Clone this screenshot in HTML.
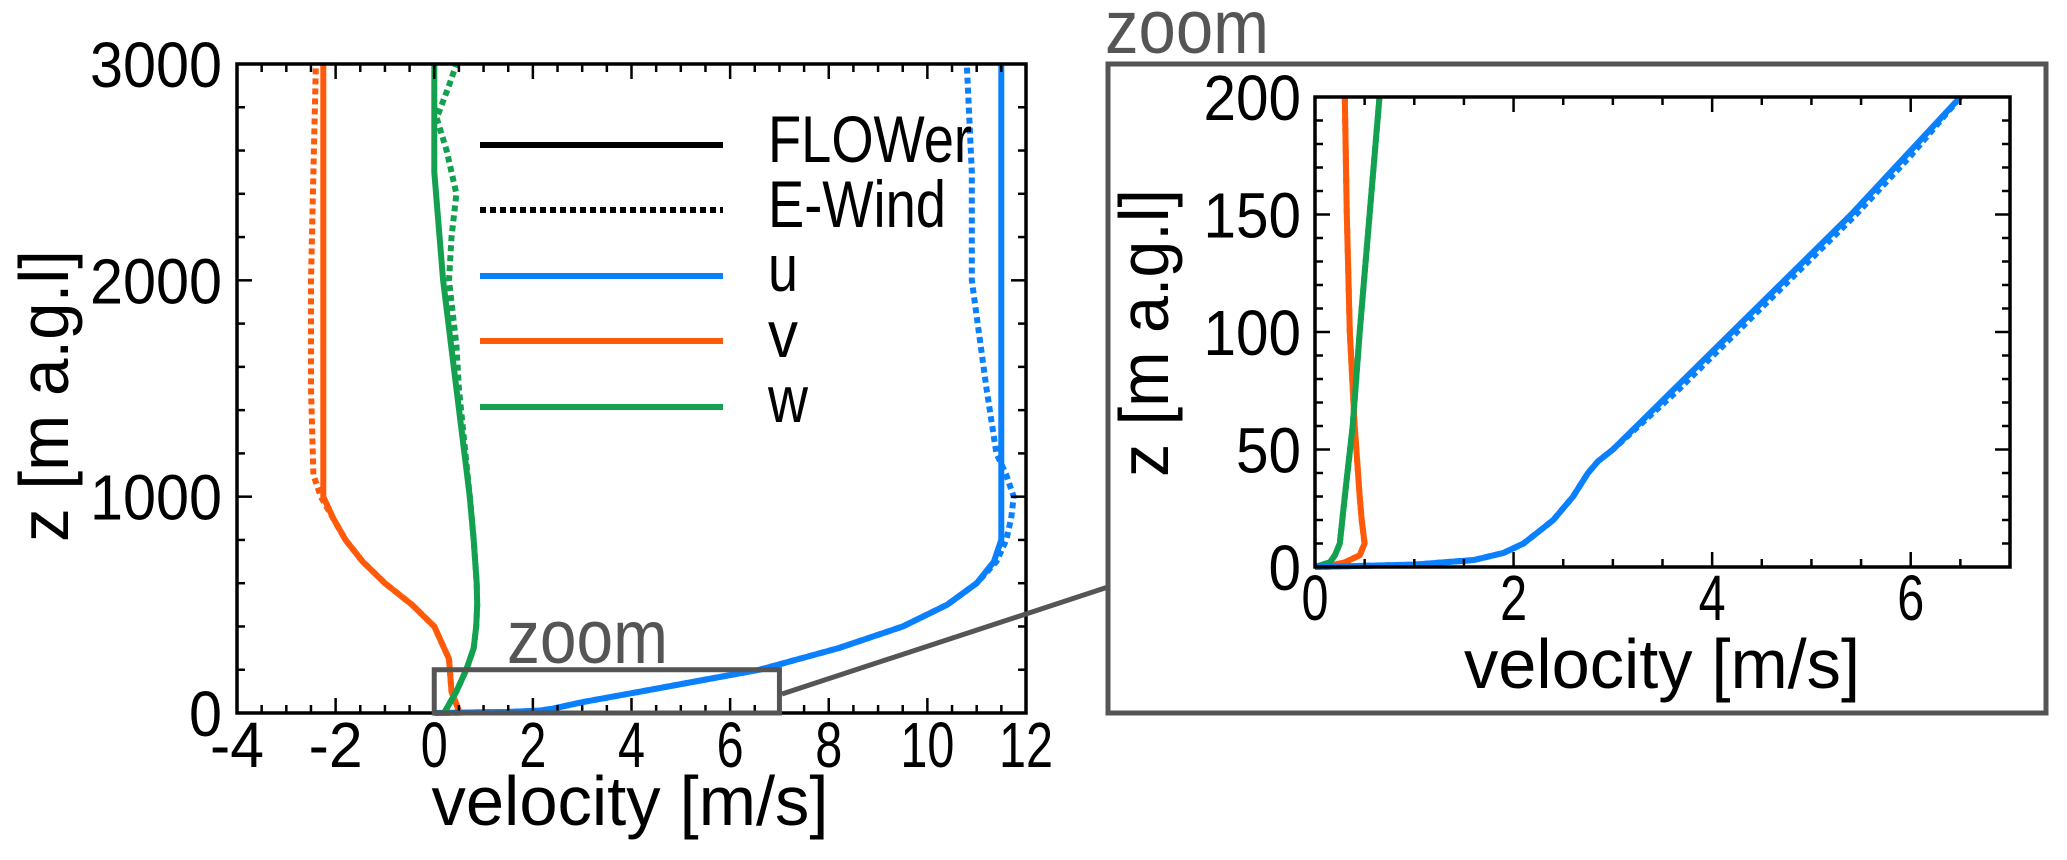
<!DOCTYPE html>
<html><head><meta charset="utf-8"><style>
html,body{margin:0;padding:0;background:#fff;}
svg{display:block;font-family:"Liberation Sans",sans-serif;}
</style></head><body>
<svg id="c" width="2067" height="860" viewBox="0 0 2067 860" xmlns="http://www.w3.org/2000/svg"></svg>
<script>
// ---- main plot data (z in m, velocity in m/s) ----
const uSolidZ = [0,5,10,20,50,100,150,200,300,400,500,600,700,800,900,1000,1500,2000,2500,3000];
const uSolidV = [0,1.5,2.1,2.4,3.0,4.2,5.4,6.6,8.2,9.5,10.4,11.0,11.35,11.5,11.5,11.5,11.5,11.5,11.5,11.5];
const uDashZ  = [0,5,10,20,50,100,150,200,300,400,500,600,700,800,900,1000,1100,1200,1500,2000,2500,3000];
const uDashV  = [0,1.5,2.1,2.4,3.0,4.2,5.4,6.6,8.2,9.5,10.4,11.0,11.4,11.6,11.7,11.75,11.6,11.4,11.2,10.9,10.9,10.8];
const vSolidZ = [0,10,100,250,300,400,500,600,700,800,900,1000,2000,3000];
const vSolidV = [0.45,0.5,0.35,0.3,0.2,0.0,-0.45,-1.0,-1.45,-1.8,-2.05,-2.25,-2.25,-2.25];
const vDashZ  = [0,10,100,250,300,400,500,600,700,800,900,1000,1100,1500,2000,2500,3000];
const vDashV  = [0.45,0.5,0.35,0.3,0.2,0.0,-0.45,-1.0,-1.45,-1.8,-2.05,-2.3,-2.45,-2.5,-2.5,-2.45,-2.4];
const wSolidZ = [0,100,200,300,400,500,600,800,1000,1500,2000,2500,3000];
const wSolidV = [0.2,0.45,0.65,0.8,0.85,0.87,0.86,0.8,0.72,0.45,0.18,0.0,0.0];
const wDashZ  = [0,100,200,300,400,500,600,800,1000,1500,1700,2000,2200,2400,2600,2750,2900,3000];
const wDashV  = [0.2,0.45,0.65,0.8,0.85,0.87,0.86,0.8,0.72,0.5,0.45,0.3,0.35,0.45,0.25,0.05,0.3,0.45];
const mainXTicks = [-4,-2,0,2,4,6,8,10,12];
const mainYTicks = [0,1000,2000,3000];
// ---- zoom inset data ----
const iuZ = [0,1,3,6,10,15,20,30,40,45,50,75,100,125,150,175,200];
const iuV = [0,1.0,1.6,1.9,2.1,2.25,2.4,2.6,2.75,2.85,3.0,3.6,4.2,4.8,5.4,5.95,6.5];
const iuDV= [0,1.0,1.6,1.9,2.1,2.25,2.4,2.6,2.75,2.85,3.0,3.65,4.25,4.85,5.45,6.0,6.5];
const ivZ = [0,2,5,10,20,30,60,100,150,200];
const ivV = [0.1,0.3,0.45,0.5,0.47,0.45,0.4,0.35,0.32,0.3];
const iwZ = [0,2,5,10,30,60,100,150,200];
const iwV = [0,0.15,0.2,0.25,0.3,0.38,0.45,0.55,0.65];
const insetXTicks = [0,2,4,6];
const insetYTicks = [0,50,100,150,200];

const svg = document.getElementById('c');
const NS = 'http://www.w3.org/2000/svg';
function mk(tag, attrs, parent){const e=document.createElementNS(NS,tag);for(const k in attrs)e.setAttribute(k,attrs[k]);(parent||svg).appendChild(e);return e;}
const BLUE='#0a80ff', ORANGE='#ff5a0a', GREEN='#13a150', GRAY='#555';

function axis(ax){
  ax.sx = v => ax.L + (v-ax.x0)/(ax.x1-ax.x0)*(ax.R-ax.L);
  ax.sy = v => ax.B - (v-ax.y0)/(ax.y1-ax.y0)*(ax.B-ax.T);
  return ax;
}
function drawLine(ax, zs, vs, color, dashed, name){
  let d='';
  for(let i=0;i<zs.length;i++){d+=(i?'L':'M')+ax.sx(vs[i]).toFixed(1)+','+ax.sy(zs[i]).toFixed(1);}
  const p=mk('path',{d:d,fill:'none',stroke:color,'stroke-width':6,'stroke-linejoin':'round'});
  if(dashed)p.setAttribute('stroke-dasharray','6,4');
  
  
}
function frame(ax, xt, xminor, yt, yminor, name){
  const g=mk('g',{});
  
  
  for(let v=ax.x0; v<=ax.x1+1e-9; v+=xminor){
    const x=ax.sx(v), major=xt.some(t=>Math.abs(t-v)<1e-9), len=major?15:8;
    mk('line',{x1:x,y1:ax.B,x2:x,y2:ax.B-len,stroke:'#000','stroke-width':2.5},g);
    mk('line',{x1:x,y1:ax.T,x2:x,y2:ax.T+len,stroke:'#000','stroke-width':2.5},g);
  }
  for(let v=ax.y0; v<=ax.y1+1e-9; v+=yminor){
    const y=ax.sy(v), major=yt.some(t=>Math.abs(t-v)<1e-9), len=major?15:8;
    mk('line',{x1:ax.L,y1:y,x2:ax.L+len,y2:y,stroke:'#000','stroke-width':2.5},g);
    mk('line',{x1:ax.R,y1:y,x2:ax.R-len,y2:y,stroke:'#000','stroke-width':2.5},g);
  }
  mk('rect',{x:ax.L,y:ax.T,width:ax.R-ax.L,height:ax.B-ax.T,fill:'none',stroke:'#000','stroke-width':3.5},g);
  xt.forEach(t=>{
    const s=String(t);
    const tx=mk('text',{x:ax.sx(t),y:ax.xlabY,'text-anchor':'middle','font-size':64,textLength:s.length*27,lengthAdjust:'spacingAndGlyphs'},g);
    tx.textContent=s;
    
    
  });
  yt.forEach(t=>{
    const s=String(t);
    const tx=mk('text',{x:ax.ylabX,y:ax.sy(t)+23,'text-anchor':'end','font-size':64,textLength:s.length*ax.digW,lengthAdjust:'spacingAndGlyphs'},g);
    tx.textContent=s;
    
    
  });
}
function text(x,y,s,size,opts,name){
  const t=mk('text',Object.assign({x:x,y:y,'font-size':size},opts||{}));
  t.textContent=s;
  
  
  return t;
}

// ---- main plot ----
const M = axis({L:237,R:1026,T:64,B:713,x0:-4,x1:12,y0:0,y1:3000,xlabY:767,ylabX:222,digW:33});
drawLine(M,vDashZ,vDashV,ORANGE,true,'v-ewind-line');
drawLine(M,uDashZ,uDashV,BLUE,true,'u-ewind-line');
drawLine(M,wDashZ,wDashV,GREEN,true,'w-ewind-line');
drawLine(M,vSolidZ,vSolidV,ORANGE,false,'v-flower-line');
drawLine(M,uSolidZ,uSolidV,BLUE,false,'u-flower-line');
drawLine(M,wSolidZ,wSolidV,GREEN,false,'w-flower-line');
frame(M,mainXTicks,0.5,mainYTicks,200,'main-axes');
text(630,825,'velocity [m/s]',70,{'text-anchor':'middle',textLength:397,lengthAdjust:'spacingAndGlyphs'},'x-axis-title');
text(0,0,'z [m a.g.l]',70,{'text-anchor':'middle',transform:'translate(68,396) rotate(-90)',textLength:292,lengthAdjust:'spacingAndGlyphs'},'y-axis-title');

// legend
const legY=[145,210,276,341,407], legTxtY=[162,227,291,357,422];
const legLabels=['FLOWer','E-Wind','u','v','w'], legColors=['#000','#000',BLUE,ORANGE,GREEN];
for(let i=0;i<5;i++){
  const l=mk('line',{x1:480,y1:legY[i],x2:723,y2:legY[i],stroke:legColors[i],'stroke-width':6});
  if(i===1)l.setAttribute('stroke-dasharray','6,4');
  
  
  const opts = i===0?{textLength:204,lengthAdjust:'spacingAndGlyphs'}:(i===1?{textLength:178,lengthAdjust:'spacingAndGlyphs'}:{textLength:i===4?40:30,lengthAdjust:'spacingAndGlyphs'});
  text(768,legTxtY[i],legLabels[i],66,opts,'legend-entry-'+legLabels[i].toLowerCase());
}

// zoom box on main plot
const zb=mk('rect',{x:M.sx(0),y:M.sy(200),width:M.sx(7)-M.sx(0),height:M.sy(0)-M.sy(200),fill:'none',stroke:GRAY,'stroke-width':5});


text(507,663,'zoom',76,{fill:GRAY,textLength:161,lengthAdjust:'spacingAndGlyphs'},'zoom-box-label');
const cn=mk('line',{x1:782,y1:694,x2:1108,y2:587,stroke:GRAY,'stroke-width':5});



// inset frame
const fr=mk('rect',{x:1108,y:64,width:938,height:649,fill:'none',stroke:GRAY,'stroke-width':5});


text(1105,53,'zoom',76,{fill:GRAY,textLength:164,lengthAdjust:'spacingAndGlyphs'},'zoom-inset-label');

// inset plot
const I = axis({L:1315,R:2010,T:97,B:567,x0:0,x1:7,y0:0,y1:200,xlabY:620,ylabX:1301,digW:32.5});
drawLine(I,iuZ,iuDV,BLUE,true,'inset-u-ewind-line');
drawLine(I,ivZ,ivV,ORANGE,true,'inset-v-ewind-line');
drawLine(I,iwZ,iwV,GREEN,true,'inset-w-ewind-line');
drawLine(I,ivZ,ivV,ORANGE,false,'inset-v-flower-line');
drawLine(I,iwZ,iwV,GREEN,false,'inset-w-flower-line');
drawLine(I,iuZ,iuV,BLUE,false,'inset-u-flower-line');
frame(I,insetXTicks,0.5,insetYTicks,10,'inset-axes');
text(1662,688,'velocity [m/s]',70,{'text-anchor':'middle',textLength:396,lengthAdjust:'spacingAndGlyphs'},'inset-x-axis-title');
text(0,0,'z [m a.g.l]',70,{'text-anchor':'middle',transform:'translate(1168,333) rotate(-90)',textLength:288,lengthAdjust:'spacingAndGlyphs'},'inset-y-axis-title');
</script>
</body></html>
